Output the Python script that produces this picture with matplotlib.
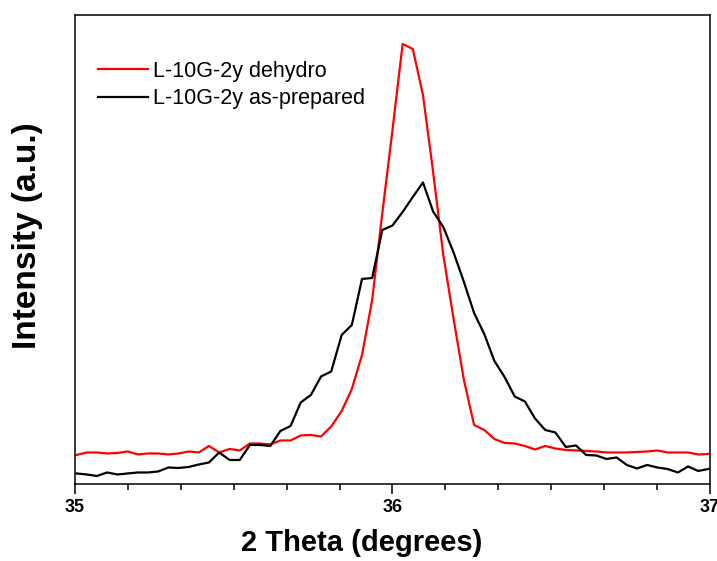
import matplotlib
matplotlib.use("Agg")
import matplotlib.pyplot as plt
from matplotlib.ticker import MultipleLocator, AutoMinorLocator

plt.rcParams["font.family"] = ["Liberation Sans", "DejaVu Sans"]

# 2 theta scan positions (degrees)
two_theta = [35.005, 35.037, 35.069, 35.101, 35.134, 35.166, 35.198, 35.230, 35.262, 35.294,
             35.326, 35.358, 35.390, 35.422, 35.454, 35.487, 35.519, 35.551, 35.583, 35.615,
             35.647, 35.679, 35.711, 35.743, 35.775, 35.807, 35.840, 35.872, 35.904, 35.936,
             35.968, 36.000, 36.032, 36.064, 36.096, 36.128, 36.160, 36.193, 36.225, 36.257,
             36.289, 36.321, 36.353, 36.385, 36.417, 36.449, 36.481, 36.513, 36.546, 36.578,
             36.610, 36.642, 36.674, 36.706, 36.738, 36.770, 36.802, 36.834, 36.866, 36.899,
             36.931, 36.963, 36.995]

# intensities (arbitrary units)
dehydro = [58, 63, 63, 61, 62, 65, 59, 61, 61, 59,
           61, 65, 63, 76, 63, 70, 67, 81, 81, 79,
           87, 87, 97, 98, 95, 115, 146, 190, 258, 368,
           542, 708, 880, 870, 778, 624, 458, 328, 208, 118,
           108, 90, 82, 81, 76, 69, 76, 71, 68, 67,
           66, 65, 63, 63, 63, 64, 65, 67, 63, 63,
           63, 59, 60]
as_prepared = [21, 19, 16, 23, 19, 21, 23, 23, 25, 33,
               32, 34, 39, 43, 63, 48, 48, 78, 78, 76,
               106, 116, 163, 178, 215, 225, 298, 318, 410, 412,
               508, 517, 544, 574, 603, 545, 514, 462, 404, 342,
               300, 246, 214, 175, 165, 131, 108, 103, 74, 77,
               58, 57, 50, 53, 38, 31, 38, 33, 30, 23,
               35, 26, 30]

fig = plt.figure(figsize=(7.17, 5.61), dpi=100)
ax = fig.add_axes([0.1046, 0.1373, 0.8856, 0.836])

ax.plot(two_theta, dehydro, color="#ff0000", lw=1.6, label="L-10G-2y dehydro")
ax.plot(two_theta, as_prepared, color="black", lw=1.6, label="L-10G-2y as-prepared")

ax.set_xlim(35, 37)
ax.set_ylim(0, 938)
ax.xaxis.set_major_locator(MultipleLocator(1))
ax.xaxis.set_minor_locator(AutoMinorLocator(6))
ax.set_yticks([])
ax.tick_params(axis="x", which="major", direction="out", length=7.5, width=1.1, pad=3,
               labelsize=13)
ax.tick_params(axis="x", which="minor", direction="out", length=4.5, width=1.1)
for lab in ax.get_xticklabels():
    lab.set_fontweight("bold")
for sp in ax.spines.values():
    sp.set_linewidth(1.1)

ax.set_xlabel("2 Theta (degrees)", fontsize=21, fontweight="bold")
ax.set_ylabel("Intensity (a.u.)", fontsize=24, fontweight="bold")
ax.xaxis.set_label_coords(0.452, -0.097)
ax.yaxis.set_label_coords(-0.05, 0.529)

ax.legend(loc="upper left", bbox_to_anchor=(0.036, 0.902), frameon=False,
          fontsize=15.5, handlelength=2.33, handletextpad=0.25, labelspacing=0.3,
          borderpad=0, borderaxespad=0)

fig.savefig("out.png", dpi=100)
